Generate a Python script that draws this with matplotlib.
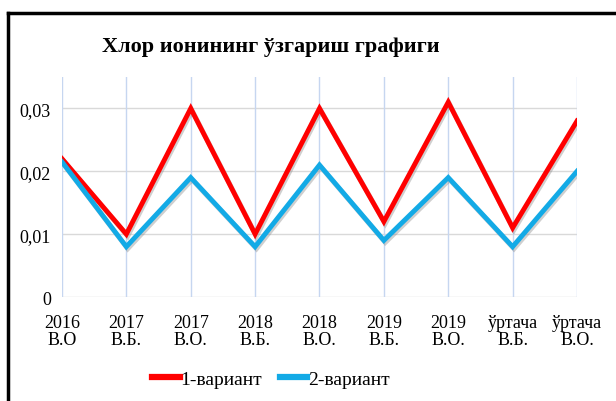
import matplotlib
matplotlib.use("Agg")
import matplotlib.pyplot as plt
import matplotlib.patheffects as pe
from matplotlib.lines import Line2D

plt.rcParams['font.family'] = ['Liberation Serif', 'DejaVu Serif']

categories = ["2016\nВ.О", "2017\nВ.Б.", "2017\nВ.О.", "2018\nВ.Б.", "2018\nВ.О.",
              "2019\nВ.Б.", "2019\nВ.О.", "ўртача\nВ.Б.", "ўртача\nВ.О."]
variant1 = [0.022, 0.010, 0.030, 0.010, 0.030, 0.012, 0.031, 0.011, 0.028]
variant2 = [0.0215, 0.008, 0.019, 0.008, 0.021, 0.009, 0.019, 0.008, 0.020]
yticks = [0, 0.01, 0.02, 0.03]
ytick_labels = ["0", "0,01", "0,02", "0,03"]
title = "Хлор ионининг ўзгариш графиги"
names = ["1-вариант", "2-вариант"]

fig = plt.figure(figsize=(6.16, 4.02), dpi=100)
ax = fig.add_axes([0.1006, 0.2587, 0.8361, 0.5473])

x = list(range(len(categories)))
shadow = [pe.SimpleLineShadow(offset=(1, -1.5), shadow_color='#888888', alpha=0.4), pe.Normal()]
ax.plot(x, variant1, color='#ff0000', lw=3.5, solid_joinstyle='miter', path_effects=shadow, zorder=3)
ax.plot(x, variant2, color='#13aae6', lw=3.5, solid_joinstyle='miter', path_effects=shadow, zorder=3)

ax.set_xlim(0, len(categories) - 1)
ax.set_ylim(0, 0.035)
ax.set_yticks(yticks)
ax.set_yticklabels(ytick_labels, fontsize=13)
ax.set_xticks(x)
ax.set_xticklabels(categories, fontsize=13, linespacing=1.05)
ax.tick_params(length=0, pad=8)
ax.tick_params(axis='x', pad=12)
for s in ax.spines.values():
    s.set_visible(False)
for yy in yticks:
    ax.axhline(yy, color='#d9d9d9', lw=1, zorder=1)
for xx in x:
    ax.axvline(xx, color='#c6d6f0', lw=1, zorder=1)

fig.text(0.44, 0.882, title, ha='center', va='center', fontsize=16, fontweight='bold')

handles = [Line2D([], [], color='#ff0000', lw=4.5), Line2D([], [], color='#13aae6', lw=4.5)]
fig.legend(handles, names, loc='center', bbox_to_anchor=(0.44, 0.055), ncol=2, frameon=False,
           fontsize=14, handlelength=1.4, handletextpad=0.05, columnspacing=0.9)

# frame border (left & top)
fig.add_artist(Line2D([0.013, 0.013], [0, 0.965], transform=fig.transFigure, color='black', lw=2.5))
fig.add_artist(Line2D([0.013, 1.0], [0.965, 0.965], transform=fig.transFigure, color='black', lw=2.5))

fig.savefig("out.png", dpi=100)
